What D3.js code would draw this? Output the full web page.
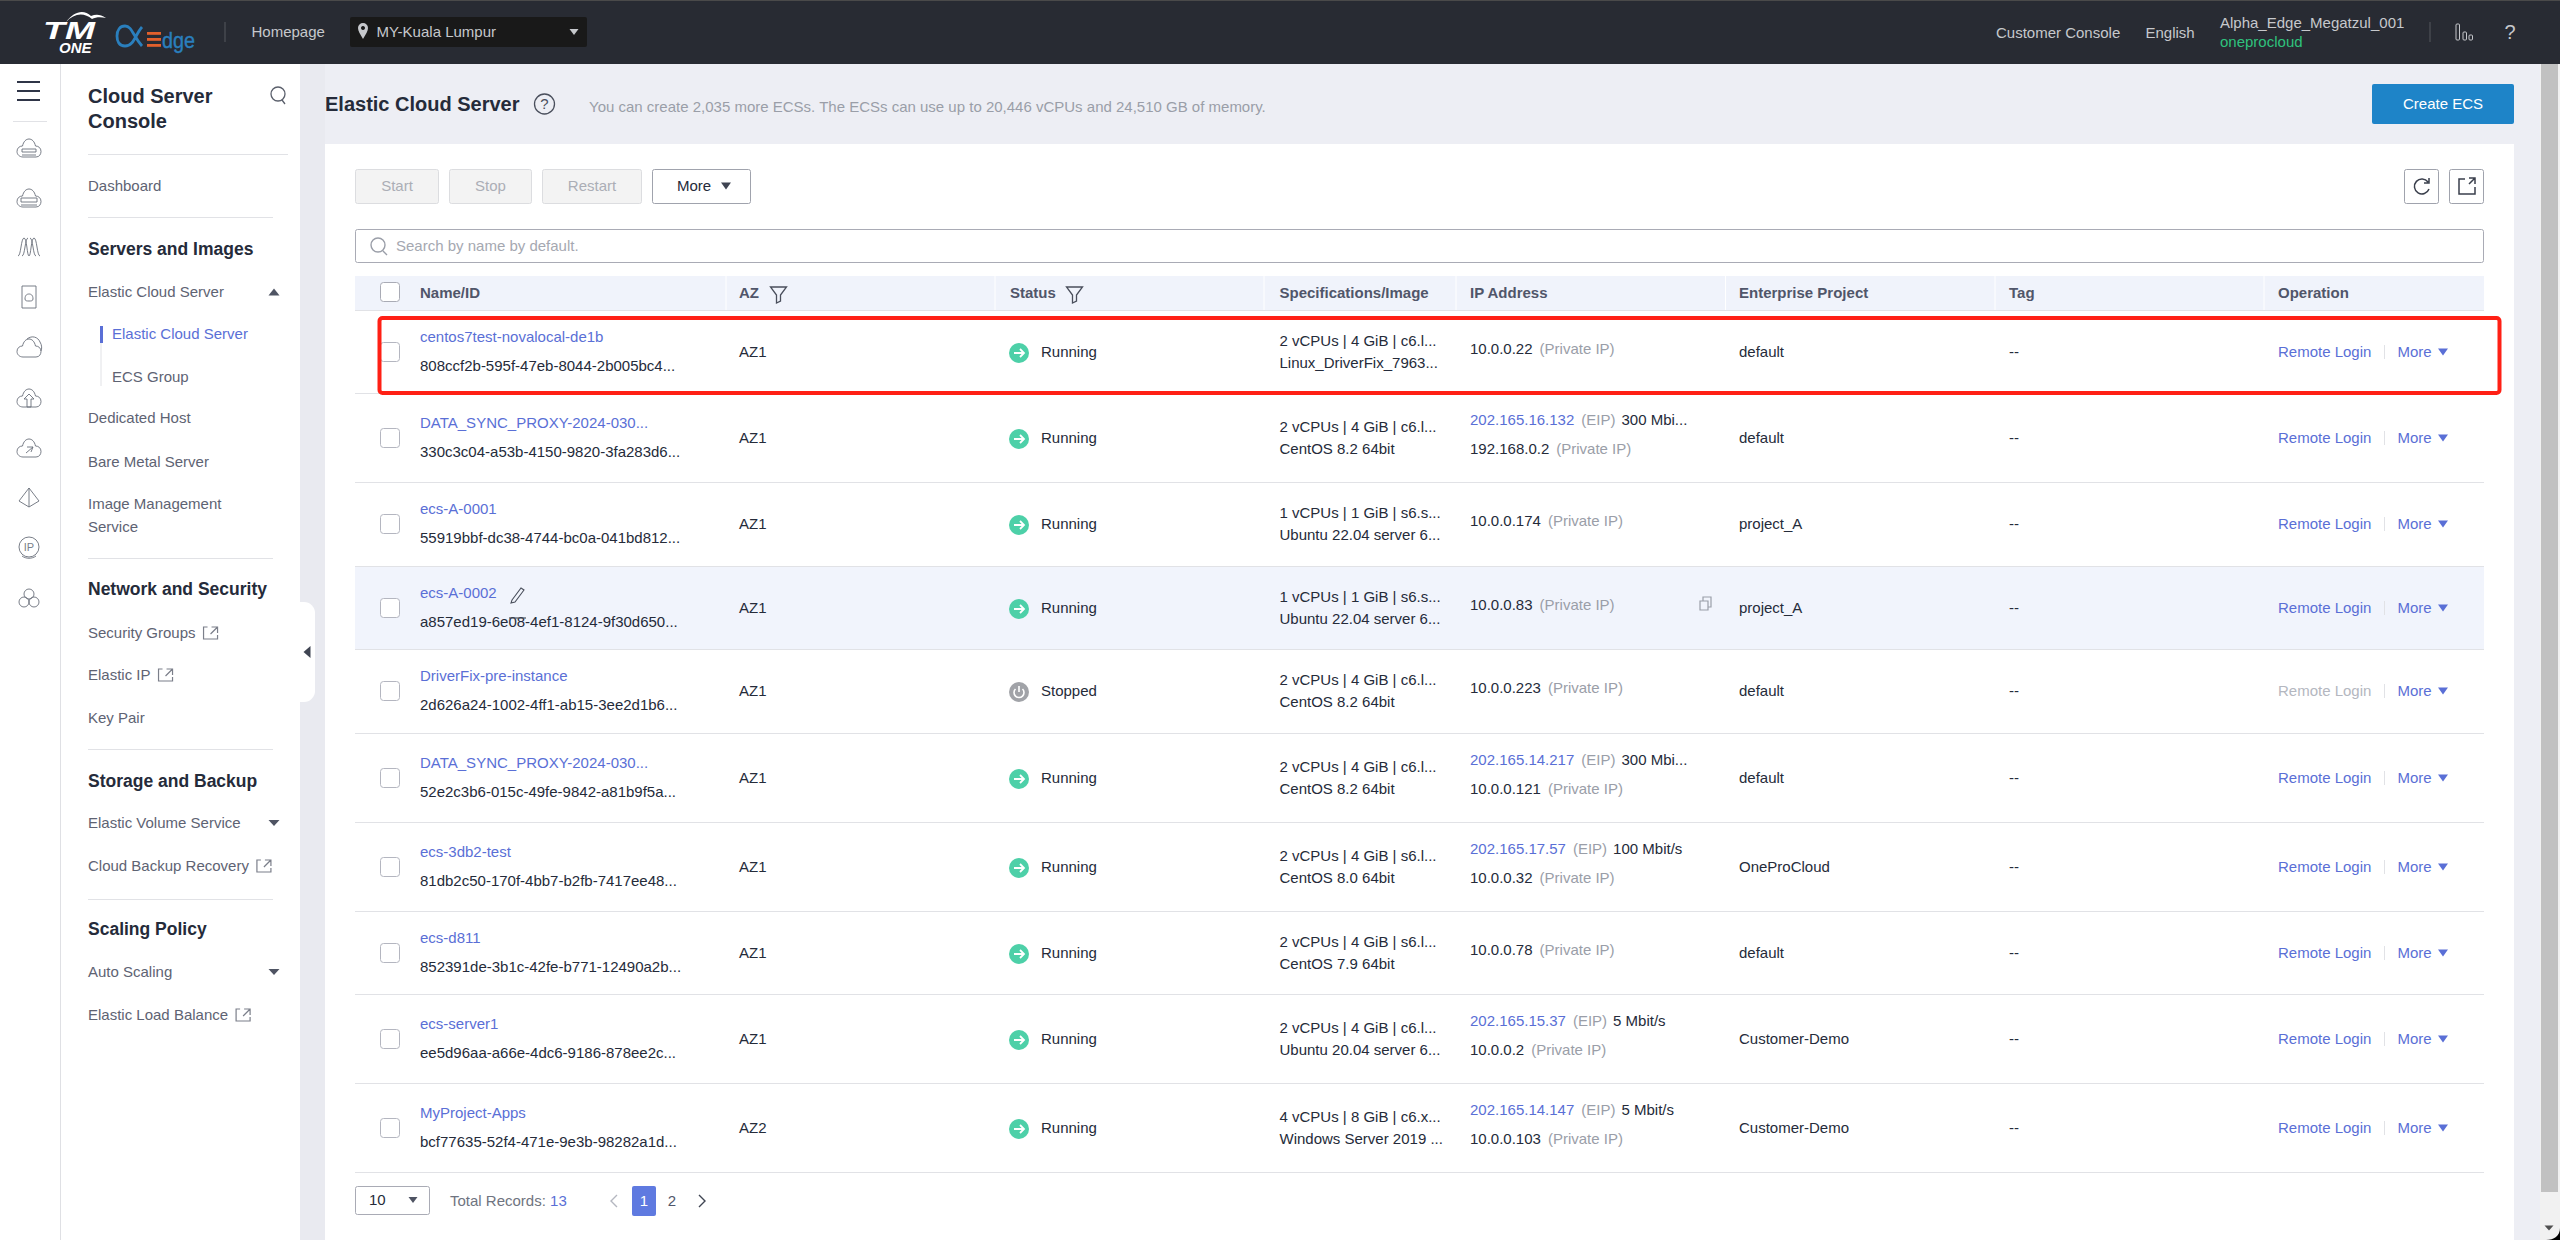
<!DOCTYPE html>
<html>
<head>
<meta charset="utf-8">
<style>
  html, body { margin: 0; padding: 0; background: #edeef4; overflow: hidden; }
  svg { display: block; }
  text { font-family: "Liberation Sans", Arial, sans-serif; font-size: 15px; }
</style>
<script src="https://cdnjs.cloudflare.com/ajax/libs/d3/7.8.5/d3.min.js"></script>
</head>
<body>
<svg id="page" width="2560" height="1240"></svg>
<script>
// table content
var columns = ["Name/ID", "AZ", "Status", "Specifications/Image", "IP Address", "Enterprise Project", "Tag", "Operation"];
var names = ["centos7test-novalocal-de1b", "DATA_SYNC_PROXY-2024-030...", "ecs-A-0001", "ecs-A-0002", "DriverFix-pre-instance", "DATA_SYNC_PROXY-2024-030...", "ecs-3db2-test", "ecs-d811", "ecs-server1", "MyProject-Apps"];
var ids = ["808ccf2b-595f-47eb-8044-2b005bc4...", "330c3c04-a53b-4150-9820-3fa283d6...", "55919bbf-dc38-4744-bc0a-041bd812...", "a857ed19-6e08-4ef1-8124-9f30d650...", "2d626a24-1002-4ff1-ab15-3ee2d1b6...", "52e2c3b6-015c-49fe-9842-a81b9f5a...", "81db2c50-170f-4bb7-b2fb-7417ee48...", "852391de-3b1c-42fe-b771-12490a2b...", "ee5d96aa-a66e-4dc6-9186-878ee2c...", "bcf77635-52f4-471e-9e3b-98282a1d..."];
var zones = ["AZ1", "AZ1", "AZ1", "AZ1", "AZ1", "AZ1", "AZ1", "AZ1", "AZ1", "AZ2"];
var statuses = ["Running", "Running", "Running", "Running", "Stopped", "Running", "Running", "Running", "Running", "Running"];
var specs = ["2 vCPUs | 4 GiB | c6.l...", "2 vCPUs | 4 GiB | c6.l...", "1 vCPUs | 1 GiB | s6.s...", "1 vCPUs | 1 GiB | s6.s...", "2 vCPUs | 4 GiB | c6.l...", "2 vCPUs | 4 GiB | c6.l...", "2 vCPUs | 4 GiB | s6.l...", "2 vCPUs | 4 GiB | s6.l...", "2 vCPUs | 4 GiB | c6.l...", "4 vCPUs | 8 GiB | c6.x..."];
var images = ["Linux_DriverFix_7963...", "CentOS 8.2 64bit", "Ubuntu 22.04 server 6...", "Ubuntu 22.04 server 6...", "CentOS 8.2 64bit", "CentOS 8.2 64bit", "CentOS 8.0 64bit", "CentOS 7.9 64bit", "Ubuntu 20.04 server 6...", "Windows Server 2019 ..."];
var eips = [null, "202.165.16.132", null, null, null, "202.165.14.217", "202.165.17.57", null, "202.165.15.37", "202.165.14.147"];
var bandwidths = [null, "300 Mbi...", null, null, null, "300 Mbi...", "100 Mbit/s", null, "5 Mbit/s", "5 Mbit/s"];
var privateIps = ["10.0.0.22", "192.168.0.2", "10.0.0.174", "10.0.0.83", "10.0.0.223", "10.0.0.121", "10.0.0.32", "10.0.0.78", "10.0.0.2", "10.0.0.103"];
var projects = ["default", "default", "project_A", "project_A", "default", "default", "OneProCloud", "default", "Customer-Demo", "Customer-Demo"];

// sidebar content
var navLabels = ["Dashboard", "Servers and Images", "Elastic Cloud Server", "Elastic Cloud Server", "ECS Group", "Dedicated Host", "Bare Metal Server", "Image Management", "Service", "Network and Security", "Security Groups", "Elastic IP", "Key Pair", "Storage and Backup", "Elastic Volume Service", "Cloud Backup Recovery", "Scaling Policy", "Auto Scaling", "Elastic Load Balance"];
var navKinds = ["item", "head", "item", "active", "sub", "item", "item", "item", "item", "head", "ext", "ext", "item", "head", "caret", "ext", "head", "caret", "ext"];

// layout, kept apart from the content
var navTop = [186, 249, 292, 334, 377, 418, 462, 504, 526.5, 589, 633, 675, 717.5, 781, 823, 866, 929, 972, 1015];
var colStart = [420, 739, 1010, 1279.5, 1470, 1739, 2009, 2278];
var colCuts = [726, 995, 1264, 1456, 1725.5, 1995, 2264];
var rowEdges = [311, 393, 482, 566, 649, 733, 822, 911, 994, 1083, 1172];
var rowCentres = [352, 438, 524, 608, 691, 778, 867, 953, 1039, 1128];
var iconTop = [148, 198, 247, 297, 348, 398, 448, 498, 547, 597];

var rowIndex = d3.range(names.length);
var xCol = d3.scaleOrdinal(columns, colStart);
var yRow = d3.scaleOrdinal(rowIndex, rowCentres);
var yNav = d3.scaleOrdinal(d3.range(navLabels.length), navTop);

var ink = "#252b3a", bodyText = "#5e6373", link = "#5a6fd6", muted = "#9a9ea8", lineGrey = "#e1e2e6";
var svg = d3.select("#page");

function label(g, x, y, str, fill, size, weight, anchor) {
  return g.append("text").attr("x", x).attr("y", y).attr("dy", "0.35em")
    .attr("fill", fill || ink).style("font-size", (size || 15) + "px")
    .style("font-weight", weight || "normal").attr("text-anchor", anchor || "start").text(str);
}
function box(g, x, y, w, h, fill, stroke, r) {
  return g.append("rect").attr("x", x).attr("y", y).attr("width", w).attr("height", h)
    .attr("fill", fill || "none").attr("stroke", stroke || "none").attr("rx", r || 0);
}
function rule(g, x1, y1, x2, y2, color, width) {
  return g.append("line").attr("x1", x1).attr("y1", y1).attr("x2", x2).attr("y2", y2)
    .attr("stroke", color || lineGrey).attr("stroke-width", width || 1);
}
function tri(g, x, y, w, h, dir, fill) {
  var p;
  if (dir == "down") p = [[x - w / 2, y - h / 2], [x + w / 2, y - h / 2], [x, y + h / 2]];
  if (dir == "up") p = [[x - w / 2, y + h / 2], [x + w / 2, y + h / 2], [x, y - h / 2]];
  if (dir == "left") p = [[x + w / 2, y - h / 2], [x + w / 2, y + h / 2], [x - w / 2, y]];
  g.append("path").attr("d", d3.line()(p) + "Z").attr("fill", fill);
}
function icon(g, x, y, d, color, width, fill) {
  return g.append("path").attr("transform", "translate(" + x + "," + y + ")").attr("d", d)
    .attr("fill", fill || "none").attr("stroke", color || "#5a5f6b").attr("stroke-width", width || 1.2);
}
function externalIcon(g, x, y) {
  icon(g, x, y, "M-3,-6 H-7 V6 H7 V2 M1,-6 H7 V0 M7,-6 L0,1", "#7b7f8a", 1.2);
}
function funnel(g, x, y) {
  icon(g, x, y, "M-8,-7 H8 L2,1 V7 L-2,9 V1Z", "#4a4f5c", 1.3);
}

// background panels
box(svg, 0, 64, 60, 1176, "#ffffff");
box(svg, 60, 64, 240, 1176, "#ffffff");
rule(svg, 60.5, 64, 60.5, 1240, "#dfe0e4");
box(svg, 300, 64, 25, 1176, "#e9eaf0");
box(svg, 325, 144, 2189, 1096, "#ffffff");

// scrollbar
box(svg, 2540, 64, 20, 1176, "#f1f1f1");
box(svg, 2541, 64, 17, 1128, "#c1c1c1");
tri(svg, 2549, 1228, 9, 5, "down", "#505050");
svg.append("path").attr("d", "M2560,1228 V1240 H2546 C2554,1240 2560,1236 2560,1228Z").attr("fill", "#000");

// top bar
var topBar = svg.append("g");
box(topBar, 0, 0, 2560, 64, "#282b33");
box(topBar, 0, 0, 2560, 1, "#4a4a4a");
label(topBar, 43, 31, "TM", "#ffffff", 24, "bold").style("font-style", "italic").attr("textLength", 52).attr("lengthAdjust", "spacingAndGlyphs");
label(topBar, 59, 48, "ONE", "#ffffff", 15, "bold").style("font-style", "italic");
icon(topBar, 0, 0, "M66,22 C74,13 84,12 92,19 C96,17 101,17 106,18 C100,14 96,14 91,16 C84,9 74,11 66,22Z", "none", 0, "#ffffff");
icon(topBar, 0, 0, "M142,27 C135,35 134,46 125,46 C119,46 117,41 117,36 C117,30 120,26 125,26 C132,26 133,36 142,46", "#2a7fbd", 2.8);
topBar.selectAll(".bar").data([32, 38, 44]).enter().append("rect").attr("x", 147).attr("y", function(d) { return d; })
  .attr("width", 14).attr("height", 2.8).attr("fill", "#e2602c");
label(topBar, 162, 40, "dge", "#2a7fbd", 22).attr("textLength", 33).attr("lengthAdjust", "spacingAndGlyphs").attr("stroke", "#2a7fbd").attr("stroke-width", 0.4);
rule(topBar, 225, 22, 225, 42, "#55585f");
label(topBar, 251.5, 32, "Homepage", "#c6c8cc");
box(topBar, 350, 17, 237, 30, "#191919", null, 2);
icon(topBar, 363, 31, "M0,8 C-3,3 -5,0 -5,-3 A5,5 0 0 1 5,-3 C5,0 3,3 0,8Z M0,-5 a2,2 0 1 0 0.01,0Z", "none", 0, "#c6c8cc").attr("fill-rule", "evenodd");
label(topBar, 376.5, 32, "MY-Kuala Lumpur", "#c6c8cc");
tri(topBar, 574, 32, 9, 6, "down", "#c6c8cc");
label(topBar, 1996, 33, "Customer Console", "#c6c8cc");
label(topBar, 2145.5, 33, "English", "#c6c8cc");
label(topBar, 2220, 23, "Alpha_Edge_Megatzul_001", "#c6c8cc");
label(topBar, 2220, 42, "oneprocloud", "#2fc27d");
rule(topBar, 2430, 22, 2430, 42, "#55585f");
[[2456, 24, 16], [2463, 32, 8], [2469, 35, 5]].forEach(function(b) {
  box(topBar, b[0], b[1], 3.5, b[2], "none", "#c6c8cc", 1);
});
label(topBar, 2510, 32, "?", "#c6c8cc", 20, null, "middle");

// icon rail
var rail = svg.append("g");
[82, 91, 100].forEach(function(y) { rule(rail, 17, y, 40, y, "#2f3547", 2); });
rule(rail, 13, 121.5, 47, 121.5);
var cloud = "M-6,9 H7 C10.5,9 12,6 12,3.5 C12,0 9.5,-2 6.5,-2 C5.5,-6.5 3,-9 0,-9 C-3,-9 -5.5,-6.5 -6.5,-2 C-9.5,-2 -12,0 -12,3.5 C-12,6.5 -9.5,9 -6,9Z";
var railIcons = [
  cloud + " M-7,1 H7 V4 H-7Z M-7,7 H7",
  cloud + " M-8,0 H8 V4 H-8Z M-8,7 H8",
  "M-11,9 C-8,9 -8,-9 -5,-9 C-2,-9 -2,9 0,9 C2,9 2,-9 5,-9 C8,-9 8,9 11,9 M-7,9 C-4,9 -4,-9 -1,-9 M1,-9 C4,-9 4,9 7,9",
  "M-7,-11 H7 V11 H-7Z M-4,2 C-4,-2 -2,-3 0,-3 C2,-3 4,-2 4,2 C4,4 2,4 0,4 C-2,4 -4,4 -4,2Z",
  cloud + " M-2,-9 C3,-13 9,-11 11,-6 C13,-3 13,1 12,3",
  cloud + " M-5,1 L0,-4 L5,1 H2 V9 H-2 V1Z",
  cloud + " M-3,5 L4,-1 L-2,-1 M4,-1 L2,4",
  "M0,-10 L10,3 L0,9 L-10,3Z M0,-10 V9",
  "M-10,0 A10,10 0 1 1 10,0 A10,10 0 1 1 -10,0Z M-7,9 C-3,12 3,12 7,9",
  "M-5,-3 a5,5 0 1 1 10,0 a5,5 0 1 1 -10,0Z M-10,5 a5,5 0 1 1 10,0 a5,5 0 1 1 -10,0Z M0,5 a5,5 0 1 1 10,0 a5,5 0 1 1 -10,0Z"
];
railIcons.forEach(function(d, i) { icon(rail, 29, iconTop[i], d, "#6a6f7b", 0.9); });
label(rail, 29, 547, "IP", "#7b7f8a", 11, null, "middle");

// sidebar
var nav = svg.append("g");
label(nav, 88, 96, "Cloud Server", ink, 20, "bold");
label(nav, 88, 121, "Console", ink, 20, "bold");
icon(nav, 278, 95, "M-7,-1 a7,7 0 1 1 14,0 a7,7 0 1 1 -14,0Z M4,5 L7,9", "#5a5f6b", 1.3);
[[88, 288, 154.5], [88, 273, 217.5], [88, 273, 558.5], [88, 273, 749.5], [88, 273, 899.5]].forEach(function(d) {
  rule(nav, d[0], d[2], d[1], d[2]);
});
rule(nav, 101, 343, 101, 386);
box(nav, 100, 326, 3, 17, link);
navLabels.forEach(function(t, i) {
  var k = navKinds[i], y = yNav(i);
  if (k == "head") label(nav, 88, y, t, ink, 17.5, "bold");
  else if (k == "active") label(nav, 112, y, t, link);
  else if (k == "sub") label(nav, 112, y, t, bodyText);
  else {
    var el = label(nav, 88, y, t, bodyText);
    if (k == "ext") externalIcon(nav, 88 + el.node().getComputedTextLength() + 15, y);
    if (k == "caret") tri(nav, 274, y, 11, 6, "down", "#4f5463");
  }
});
tri(nav, 274, 292, 11, 7, "up", "#4f5463");

// collapse handle
svg.append("path").attr("d", "M300,602 H304 A11,11 0 0 1 315,613 V691 A11,11 0 0 1 304,702 H300Z").attr("fill", "#ffffff");
tri(svg, 307, 652, 7, 12, "left", "#3f4452");

// page header
var head = svg.append("g");
label(head, 325, 104, "Elastic Cloud Server", ink, 20, "bold");
head.append("circle").attr("cx", 544.5).attr("cy", 104).attr("r", 10).attr("fill", "none").attr("stroke", "#4a4f5c").attr("stroke-width", 1.3);
label(head, 544.5, 104, "?", "#4a4f5c", 15, null, "middle");
label(head, 589, 107, "You can create 2,035 more ECSs. The ECSs can use up to 20,446 vCPUs and 24,510 GB of memory.", muted);
box(head, 2372, 84, 142, 40, "#1e84c8", null, 2);
label(head, 2443, 104, "Create ECS", "#ffffff", 15, null, "middle");

// toolbar
var bar = svg.append("g");
[["Start", 355.5, 83], ["Stop", 449.5, 82], ["Restart", 542.5, 99]].forEach(function(b) {
  box(bar, b[1], 169.5, b[2], 34, "#f3f3f3", "#dcdde0", 2);
  label(bar, b[1] + b[2] / 2, 186, b[0], "#abaeb6", 15, null, "middle");
});
box(bar, 652.5, 169.5, 98, 34, "#ffffff", "#a0a3ad", 2);
label(bar, 694, 186, "More", ink, 15, null, "middle");
tri(bar, 726, 186, 10, 7, "down", "#3f4452");
box(bar, 2404.5, 169.5, 34, 34, "#ffffff", "#a0a3ad", 2);
icon(bar, 2422, 186, "M6,-4 A7.5,7.5 0 1 0 7,3 M7,-8 V-3 H2", "#3a3f4c", 1.5);
box(bar, 2449.5, 169.5, 34, 34, "#ffffff", "#a0a3ad", 2);
icon(bar, 2467, 186, "M-2,-7 H-8 V8 H8 V1 M2,-8 H8 V-2 M8,-8 L2,-2", "#3a3f4c", 1.5);
box(bar, 355.5, 229.5, 2128, 33, "#ffffff", "#a9abb5", 2);
icon(bar, 378, 245, "M-7,0 a7,7 0 1 1 14,0 a7,7 0 1 1 -14,0Z M5,6 L9,10", "#9a9ea8", 1.4);
label(bar, 396, 246, "Search by name by default.", "#a5a8b1");

// table header
var table = svg.append("g");
box(table, 355, 276, 2129, 34, "#f0f3fb");
rule(table, 355, 310.5, 2484, 310.5);
colCuts.forEach(function(x) { rule(table, x, 276, x, 310, "#ffffff"); });
columns.forEach(function(c) { label(table, xCol(c), 293, c, "#50566a", 15, "bold"); });
funnel(table, 778.5, 294);
funnel(table, 1074.5, 294);
box(table, 380.5, 282.5, 19, 19, "#ffffff", "#a9abb5", 3);

// table rows
box(table, 355, 566, 2129, 83, "#f1f4fc");
rowEdges.slice(1).forEach(function(y) { rule(table, 355, y + 0.5, 2484, y + 0.5); });

rowIndex.forEach(function(i) {
  var y = yRow(i), row = table.append("g");
  box(row, 380.5, y - 9.5, 19, 19, "#ffffff", "#b4b6c0", 3);
  label(row, xCol("Name/ID"), y - 15, names[i], link);
  label(row, xCol("Name/ID"), y + 14, ids[i], ink);
  label(row, xCol("AZ"), y, zones[i], ink);

  var running = statuses[i] == "Running";
  row.append("circle").attr("cx", 1019).attr("cy", y + 1).attr("r", 10).attr("fill", running ? "#4dd0a8" : "#a1a3a8");
  if (running) icon(row, 1019, y + 1, "M-5,0 H5 M1,-4 L5,0 L1,4", "#ffffff", 1.8);
  else icon(row, 1019, y + 1, "M-3.5,-3 A5,5 0 1 0 3.5,-3 M0,-6 V0", "#ffffff", 1.6);
  label(row, 1041, y, statuses[i], ink);

  label(row, xCol("Specifications/Image"), y - 11.5, specs[i], ink);
  label(row, xCol("Specifications/Image"), y + 11, images[i], ink);

  var ipX = xCol("IP Address");
  if (eips[i]) {
    var ipLine = label(row, ipX, y - 18, "", link);
    ipLine.append("tspan").text(eips[i]);
    ipLine.append("tspan").attr("dx", 7).attr("fill", muted).text("(EIP)");
    ipLine.append("tspan").attr("dx", 6).attr("fill", ink).text(bandwidths[i]);
  }
  var priv = label(row, ipX, eips[i] ? y + 11 : y - 3.5, "", ink);
  priv.append("tspan").text(privateIps[i]);
  priv.append("tspan").attr("dx", 7).attr("fill", muted).text("(Private IP)");

  label(row, xCol("Enterprise Project"), y, projects[i], ink);
  label(row, xCol("Tag"), y, "--", ink);

  label(row, xCol("Operation"), y, "Remote Login", statuses[i] == "Stopped" ? "#b4b7c0" : link);
  rule(row, 2384.5, y - 7, 2384.5, y + 7);
  label(row, 2397.5, y, "More", link);
  tri(row, 2443, y, 10, 7, "down", link);
});

// hover decorations on row 4
var hovered = yRow(3);
icon(table, 518, hovered - 13, "M-6,5 L3,-7 L6,-5 L-3,7 L-7,8Z", "#4a4f5c", 1.1);
rule(table, 509, hovered + 10, 526, hovered + 10, "#4a4f5c", 1.2);
icon(table, 1705, hovered - 5, "M-5,-2 H3 V7 H-5Z M-2,-2 V-6 H6 V4 H3", "#9a9ea8", 1.2);

// pagination
var pager = svg.append("g");
box(pager, 355.5, 1186.5, 74, 28, "#ffffff", "#a9abb5", 2);
label(pager, 369, 1200, "10", ink);
tri(pager, 413, 1200, 9, 6, "down", "#4f5463");
var total = label(pager, 450, 1201, "Total Records: ", "#6f7480");
total.append("tspan").attr("fill", link).text("13");
icon(pager, 614, 1201, "M3,-6 L-3,0 L3,6", "#b4b7c0", 1.4);
box(pager, 632, 1186, 24, 30, "#5f7ae0", null, 2);
label(pager, 644, 1201, "1", "#ffffff", 15, null, "middle");
label(pager, 672, 1201, "2", "#50566a", 15, null, "middle");
icon(pager, 702, 1201, "M-3,-6 L3,0 L-3,6", "#3f4452", 1.4);

// highlight box goes on top of the first row
box(svg, 379.5, 318, 2120, 75, "none", "#ff2015", 3).attr("stroke-width", 4);
</script>
</body>
</html>
